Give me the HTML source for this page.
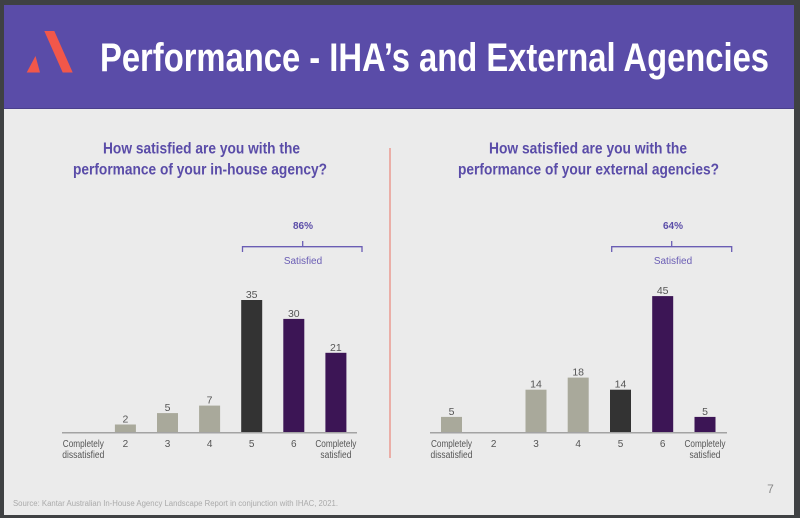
<!DOCTYPE html>
<html>
<head>
<meta charset="utf-8">
<style>
  html,body{margin:0;padding:0;background:#3f4143;}
  body{width:800px;height:518px;overflow:hidden;}
  svg{display:block;}
</style>
</head>
<body>
<svg width="800" height="518" viewBox="0 0 800 518" xmlns="http://www.w3.org/2000/svg">
  <rect x="0" y="0" width="800" height="518" fill="#3f4143"/>
  <!-- slide -->
  <rect x="4" y="5" width="790" height="510" fill="#ebebeb"/>
  <!-- header -->
  <rect x="4" y="5" width="790" height="104" fill="#5a4ca8"/>
  <rect x="4" y="108" width="790" height="1" fill="#4a3f8c"/>
  <!-- logo -->
  <polygon points="44.3,31 54.3,31 72.7,72.5 62.7,72.5" fill="#f2574a"/>
  <polygon points="26.7,72.5 40,72.5 35.5,56" fill="#f2574a"/>
  <text x="100" y="71" font-family="'Liberation Sans', sans-serif" font-weight="bold" font-size="40" fill="#ffffff" textLength="669" lengthAdjust="spacingAndGlyphs">Performance - IHA’s and External Agencies</text>

  <!-- separator -->
  <line x1="390" y1="148" x2="390" y2="458" stroke="#e8857a" stroke-width="1.2"/>

  <!-- question titles -->
  <g font-family="'Liberation Sans', sans-serif" font-weight="bold" font-size="16" fill="#5a4ca8">
    <text x="103" y="153.5" textLength="197" lengthAdjust="spacingAndGlyphs">How satisfied are you with the</text>
    <text x="73" y="174.5" textLength="254" lengthAdjust="spacingAndGlyphs">performance of your in-house agency?</text>
    <text x="489" y="153.5" textLength="198" lengthAdjust="spacingAndGlyphs">How satisfied are you with the</text>
    <text x="458" y="174.5" textLength="261" lengthAdjust="spacingAndGlyphs">performance of your external agencies?</text>
  </g>

  <!-- braces -->
  <g fill="none" stroke="#6a5db4" stroke-width="1.3">
    <path d="M242.5,252 L242.5,246.7 L362,246.7 L362,252"/>
    <line x1="302.7" y1="241" x2="302.7" y2="246.7"/>
    <path d="M611.7,252 L611.7,246.7 L731.7,246.7 L731.7,252"/>
    <line x1="671.7" y1="241" x2="671.7" y2="246.7"/>
  </g>
  <g font-family="'Liberation Sans', sans-serif" fill="#5a4ca8" text-anchor="middle">
    <text x="303" y="229" font-size="10" font-weight="bold">86%</text>
    <text x="303" y="264" font-size="10" fill="#6a5db4">Satisfied</text>
    <text x="673" y="229" font-size="10" font-weight="bold">64%</text>
    <text x="673" y="264" font-size="10" fill="#6a5db4">Satisfied</text>
  </g>

  <!-- LEFT CHART -->
  <line x1="62" y1="432.7" x2="357" y2="432.7" stroke="#a3a3a3" stroke-width="1.5"/>
  <g>
    <rect x="114.9" y="424.5" width="21" height="7.5" fill="#a9a99b"/>
    <rect x="157" y="413.1" width="21" height="18.9" fill="#a9a99b"/>
    <rect x="199.1" y="405.6" width="21" height="26.4" fill="#a9a99b"/>
    <rect x="241.2" y="300" width="21" height="132" fill="#333333"/>
    <rect x="283.3" y="318.9" width="21" height="113.1" fill="#3c1555"/>
    <rect x="325.4" y="352.8" width="21" height="79.2" fill="#3c1555"/>
  </g>
  <g font-family="'Liberation Sans', sans-serif" font-size="10.5" fill="#555" text-anchor="middle">
    <text x="125.4" y="422.5">2</text>
    <text x="167.5" y="411">5</text>
    <text x="209.6" y="403.5">7</text>
    <text x="251.7" y="298">35</text>
    <text x="293.8" y="317">30</text>
    <text x="335.9" y="351">21</text>
  </g>
  <g font-family="'Liberation Sans', sans-serif" font-size="10" fill="#555" text-anchor="middle">
    <text x="83.3" y="447" textLength="41" lengthAdjust="spacingAndGlyphs">Completely</text>
    <text x="83.3" y="458" textLength="42" lengthAdjust="spacingAndGlyphs">dissatisfied</text>
    <text x="125.4" y="447">2</text>
    <text x="167.5" y="447">3</text>
    <text x="209.6" y="447">4</text>
    <text x="251.7" y="447">5</text>
    <text x="293.8" y="447">6</text>
    <text x="335.9" y="447" textLength="41" lengthAdjust="spacingAndGlyphs">Completely</text>
    <text x="335.9" y="458" textLength="31" lengthAdjust="spacingAndGlyphs">satisfied</text>
  </g>

  <!-- RIGHT CHART -->
  <line x1="430" y1="432.7" x2="727" y2="432.7" stroke="#a3a3a3" stroke-width="1.5"/>
  <g>
    <rect x="441" y="416.9" width="21" height="15.1" fill="#a9a99b"/>
    <rect x="525.5" y="389.7" width="21" height="42.3" fill="#a9a99b"/>
    <rect x="567.7" y="377.6" width="21" height="54.4" fill="#a9a99b"/>
    <rect x="610" y="389.7" width="21" height="42.3" fill="#333333"/>
    <rect x="652.2" y="296.1" width="21" height="135.9" fill="#3c1555"/>
    <rect x="694.5" y="416.9" width="21" height="15.1" fill="#3c1555"/>
  </g>
  <g font-family="'Liberation Sans', sans-serif" font-size="10.5" fill="#555" text-anchor="middle">
    <text x="451.5" y="415">5</text>
    <text x="536" y="387.7">14</text>
    <text x="578.2" y="375.6">18</text>
    <text x="620.5" y="387.7">14</text>
    <text x="662.7" y="294">45</text>
    <text x="705" y="415">5</text>
  </g>
  <g font-family="'Liberation Sans', sans-serif" font-size="10" fill="#555" text-anchor="middle">
    <text x="451.5" y="447" textLength="41" lengthAdjust="spacingAndGlyphs">Completely</text>
    <text x="451.5" y="458" textLength="42" lengthAdjust="spacingAndGlyphs">dissatisfied</text>
    <text x="493.7" y="447">2</text>
    <text x="536" y="447">3</text>
    <text x="578.2" y="447">4</text>
    <text x="620.5" y="447">5</text>
    <text x="662.7" y="447">6</text>
    <text x="705" y="447" textLength="41" lengthAdjust="spacingAndGlyphs">Completely</text>
    <text x="705" y="458" textLength="31" lengthAdjust="spacingAndGlyphs">satisfied</text>
  </g>

  <!-- footer -->
  <text x="13" y="506" font-family="'Liberation Sans', sans-serif" font-size="8" fill="#aaaaaa" textLength="325" lengthAdjust="spacingAndGlyphs">Source: Kantar Australian In-House Agency Landscape Report in conjunction with IHAC, 2021.</text>
  <text x="770.5" y="493" font-family="'Liberation Sans', sans-serif" font-size="12" fill="#8a8a8a" text-anchor="middle">7</text>
</svg>
</body>
</html>
